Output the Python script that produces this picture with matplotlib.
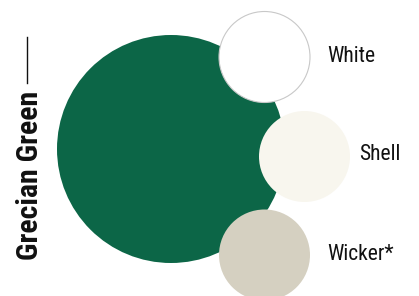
import matplotlib
matplotlib.use("Agg")
import matplotlib.pyplot as plt
from matplotlib.patches import Circle

# main colour and its accent swatches
main_name = "Grecian Green"
main_color = "#0c6647"
swatch_names = ["White", "Shell", "Wicker*"]
swatch_colors = ["#ffffff", "#f8f6ee", "#d5d0c1"]
swatch_edges = ["#c8c8c8", "none", "none"]

# layout (pixel coords, y down)
main_xy, main_r = (171, 149), 114
swatch_xy = [(264.5, 57), (304.5, 156.5), (264.5, 255)]
swatch_r = 45.5
label_x = [327, 359, 327]
label_base = [62.5, 159.5, 260.5]
fonts = ["Roboto Condensed", "DejaVu Sans"]

fig = plt.figure(figsize=(4.19, 2.96), dpi=100)
ax = fig.add_axes([0, 0, 1, 1])
ax.set_xlim(0, 419)
ax.set_ylim(296, 0)
ax.set_aspect("equal")
ax.axis("off")

ax.add_patch(Circle(main_xy, main_r, color=main_color, lw=0))
for (cx, cy), c, e, name, lx, by in zip(swatch_xy, swatch_colors, swatch_edges,
                                         swatch_names, label_x, label_base):
    ax.add_patch(Circle((cx, cy), swatch_r, facecolor=c, edgecolor=e, lw=0.8))
    ax.text(lx, by, name, fontsize=15.5, family=fonts, color="#111111",
            va="baseline", ha="left")

# vertical title with rule above it
ax.text(38, 260, main_name, rotation=90, rotation_mode="anchor", fontsize=21.5,
        fontweight="heavy", family=fonts, color="#111111", ha="left", va="baseline")
ax.plot([27, 27], [37, 83], color="#111111", lw=1)

fig.savefig("out.png", dpi=100)
